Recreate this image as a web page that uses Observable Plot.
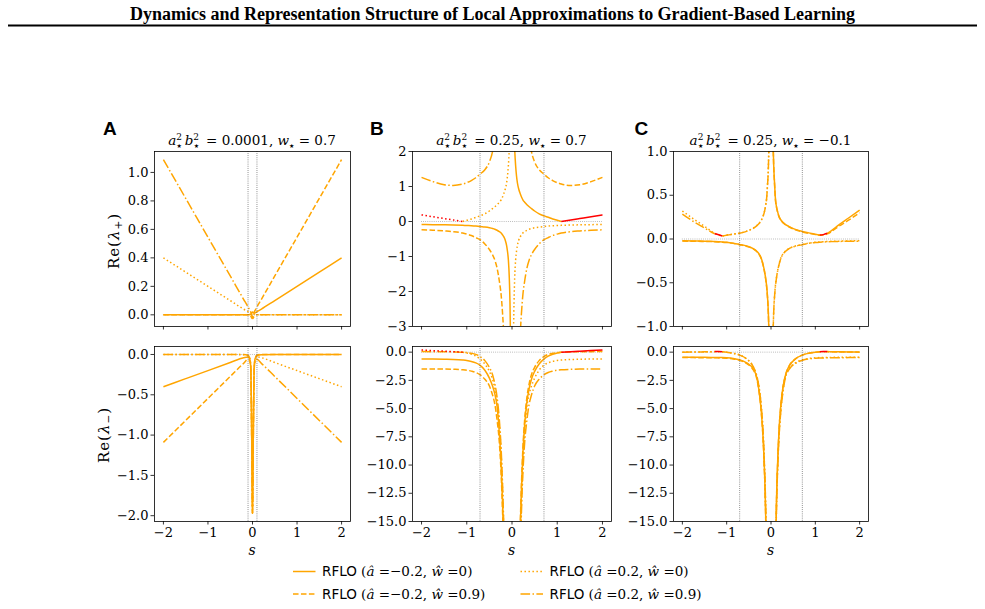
<!DOCTYPE html>
<html>
<head>
<meta charset="utf-8">
<title>RFLO eigenvalues</title>
<script src="https://cdn.jsdelivr.net/npm/d3@7"></script>
<script src="https://cdn.jsdelivr.net/npm/@observablehq/plot@0.6"></script>
<style>
  html, body { margin: 0; padding: 0; background: #fff; }
  #fig { position: relative; width: 985px; height: 609px; overflow: hidden; background: #fff; }
  #fig svg.panel { position: absolute; }
  #overlay { position: absolute; left: 0; top: 0; pointer-events: none; }
</style>
</head>
<body>
<div id="fig"></div>
<script>
// ---------- data ----------
const PAPER_TITLE = "Dynamics and Representation Structure of Local Approximations to Gradient-Based Learning";
const PANEL_LETTERS = ["A", "B", "C"];
const PANEL_AB2 = ["0.0001", "0.25", "0.25"];
const PANEL_WSTAR = ["0.7", "0.7", "\u22120.1"];
const LEGEND_AHAT = ["\u22120.2", "\u22120.2", "0.2", "0.2"];
const LEGEND_WHAT = ["0", "0.9", "0", "0.9"];
const LEGEND_STYLE = ["solid", "dashed", "dotted", "dashdot"];

const X_TICKS = [-2, -1, 0, 1, 2];
const S_SPAN = [-2, 2];
const CRIT_A = [-0.1, 0.1];
const CRIT_BC = [-0.7071, 0.7071];

// Panel A (a*^2 b*^2 = 0.0001, w* = 0.7)
const S_A = [-2, -1.5, -1, -0.5, -0.2, -0.1, -0.06, -0.04, -0.03, -0.02, -0.01, 0, 0.01, 0.02, 0.03, 0.04, 0.06, 0.1, 0.2, 0.5, 1, 1.5, 2];
const aTopSolid   = [0, 0, 0, 0, 0, 0, 0.002, 0.004, 0.006, 0.01, 0.015, 0.02, 0.018, 0.015, 0.013, 0.013, 0.015, 0.022, 0.04, 0.1, 0.2, 0.3, 0.4];
const aTopDashed  = [0, 0, 0, 0, 0, 0, -0.005, -0.01, -0.015, -0.02, -0.025, -0.02, -0.01, 0, 0.01, 0.02, 0.032, 0.055, 0.109, 0.273, 0.545, 0.818, 1.09];
const aTopDotted  = [0.4, 0.3, 0.2, 0.1, 0.04, 0.022, 0.015, 0.013, 0.013, 0.015, 0.018, 0.02, 0.015, 0.01, 0.006, 0.004, 0.002, 0, 0, 0, 0, 0, 0];
const aTopDashDot = [1.09, 0.818, 0.545, 0.273, 0.109, 0.055, 0.032, 0.02, 0.01, 0, -0.01, -0.02, -0.025, -0.02, -0.015, -0.01, -0.005, 0, 0, 0, 0, 0, 0];
const aBotSolid   = [-0.4, -0.3, -0.2, -0.1, -0.04, -0.03, -0.06, -0.15, -0.4, -0.9, -1.5, -1.97, -1.5, -0.9, -0.4, -0.15, -0.05, -0.015, -0.004, 0, 0, 0, 0];
const aBotDashed  = [-1.09, -0.818, -0.545, -0.273, -0.11, -0.06, -0.08, -0.17, -0.42, -0.92, -1.5, -1.97, -1.5, -0.9, -0.4, -0.15, -0.05, -0.01, 0, 0, 0, 0, 0];
const aBotDotted  = [0, 0, 0, 0, -0.004, -0.015, -0.05, -0.15, -0.4, -0.9, -1.5, -1.97, -1.5, -0.9, -0.4, -0.15, -0.06, -0.03, -0.04, -0.1, -0.2, -0.3, -0.4];
const aBotDashDot = [0, 0, 0, 0, 0, -0.01, -0.05, -0.15, -0.4, -0.9, -1.5, -1.97, -1.5, -0.92, -0.42, -0.17, -0.08, -0.06, -0.11, -0.273, -0.545, -0.818, -1.09];

// Panel B (a*^2 b*^2 = 0.25, w* = 0.7)
const S_B = [-2, -1.75, -1.5, -1.3, -1.09, -1, -0.9, -0.8, -0.71, -0.6, -0.5, -0.43, -0.38, -0.33, -0.28, -0.24, -0.21, -0.18, -0.15, -0.12, -0.1, -0.08, -0.06, -0.045, -0.03, 0,
             0.03, 0.045, 0.06, 0.08, 0.1, 0.12, 0.15, 0.18, 0.21, 0.24, 0.28, 0.33, 0.38, 0.43, 0.5, 0.6, 0.71, 0.8, 0.9, 1, 1.09, 1.3, 1.5, 1.75, 2];
const bTopSolid = [-0.085, -0.09, -0.095, -0.1, -0.11, -0.115, -0.12, -0.13, -0.145, -0.16, -0.18, -0.2, -0.22, -0.25, -0.29, -0.33, -0.38, -0.44, -0.53, -0.68, -0.85, -1.1, -1.6, -2.3, -3.6, null,
                   3.5, 2.6, 2.05, 1.6, 1.3, 1.1, 0.92, 0.8, 0.7, 0.62, 0.55, 0.48, 0.42, 0.37, 0.3, 0.22, 0.16, 0.12, 0.07, 0.035, 0, null, null, null, null];
const bTopDashed = [-0.237, -0.25, -0.27, -0.29, -0.33, -0.36, -0.4, -0.46, -0.52, -0.64, -0.8, -0.95, -1.1, -1.33, -1.7, -2.1, -2.6, -3.3, -4.5,
                    null, null, null, null, null, null, null, null, null, null, null, null, null, null, null, null, null, null,
                    3.0, 2.4, 2.0, 1.7, 1.48, 1.35, 1.25, 1.17, 1.11, 1.07, 1.03, 1.05, 1.14, 1.26];
const bTopDotted = [null, null, null, null, 0, 0.035, 0.07, 0.12, 0.16, 0.22, 0.3, 0.37, 0.42, 0.48, 0.55, 0.62, 0.7, 0.8, 0.92, 1.1, 1.3, 1.6, 2.05, 2.6, 3.5, null,
                    -3.6, -2.3, -1.6, -1.1, -0.85, -0.68, -0.53, -0.44, -0.38, -0.33, -0.29, -0.25, -0.22, -0.2, -0.18, -0.16, -0.145, -0.13, -0.12, -0.115, -0.11, -0.1, -0.095, -0.09, -0.085];
const bTopDashDot = [1.26, 1.14, 1.05, 1.03, 1.07, 1.11, 1.17, 1.25, 1.35, 1.48, 1.7, 2.0, 2.4, 3.0,
                     null, null, null, null, null, null, null, null, null, null, null, null, null, null, null, null, null, null,
                     -4.5, -3.3, -2.6, -2.1, -1.7, -1.33, -1.1, -0.95, -0.8, -0.64, -0.52, -0.46, -0.4, -0.36, -0.33, -0.29, -0.27, -0.25, -0.237];
const bBotSolid = [-0.6, -0.61, -0.63, -0.65, -0.7, -0.74, -0.82, -0.95, -1.15, -1.6, -2.3, -3.0, -3.7, -4.8, -7.2, -10.0, -13.2, -17.5, null,
                   null, null, null, null, null, null, null, null, null, null, null, null, null, null,
                   -16.0, -12.0, -9.0, -6.4, -4.4, -3.2, -2.4, -1.7, -1.05, -0.6, -0.35, -0.18, -0.07, 0, null, null, null, null];
const bBotDashed = [-1.49, -1.49, -1.5, -1.52, -1.56, -1.6, -1.68, -1.8, -2.0, -2.4, -3.0, -3.8, -4.6, -6.0, -8.0, -10.8, -14.0, -18.5, null,
                    null, null, null, null, null, null, null, null, null, null, null, null, null, null,
                    -15.6, -11.6, -8.6, -6.0, -4.0, -2.8, -2.0, -1.35, -0.75, -0.38, -0.2, -0.1, -0.04, -0.01, 0.02, 0.035, 0.045, 0.05];
const bBotDotted = [null, null, null, null, 0, -0.07, -0.18, -0.35, -0.6, -1.05, -1.7, -2.4, -3.2, -4.4, -6.4, -9.0, -12.0, -16.0, null,
                    null, null, null, null, null, null, null, null, null, null, null, null, null, null,
                    -17.5, -13.2, -10.0, -7.2, -4.8, -3.7, -3.0, -2.3, -1.6, -1.15, -0.95, -0.82, -0.74, -0.7, -0.65, -0.63, -0.61, -0.6];
const bBotDashDot = [0.05, 0.045, 0.035, 0.02, -0.01, -0.04, -0.1, -0.2, -0.38, -0.75, -1.35, -2.0, -2.8, -4.0, -6.0, -8.6, -11.6, -15.6, null,
                     null, null, null, null, null, null, null, null, null, null, null, null, null, null,
                     -18.5, -14.0, -10.8, -8.0, -6.0, -4.6, -3.8, -3.0, -2.4, -2.0, -1.8, -1.68, -1.6, -1.56, -1.52, -1.5, -1.49, -1.49];
// complex-eigenvalue stretches (equal real parts), drawn in red
const S_B_RED_LEFT = [-2, -1.75, -1.5, -1.3, -1.09];
const S_B_RED_RIGHT = [1.09, 1.3, 1.5, 1.75, 2];
const bDottedRed = [0.19, 0.135, 0.085, 0.045, 0];
const bSolidRed = [0, 0.045, 0.085, 0.135, 0.19];

// Panel C (a*^2 b*^2 = 0.25, w* = -0.1)
const S_C = [-2, -1.75, -1.5, -1.35, -1.27, -1.18, -1.1, -1, -0.85, -0.71, -0.55, -0.4, -0.33, -0.27, -0.22, -0.18, -0.15, -0.12, -0.1, -0.08, -0.06, -0.05, -0.04, 0,
             0.04, 0.05, 0.06, 0.08, 0.1, 0.12, 0.15, 0.18, 0.22, 0.27, 0.33, 0.4, 0.55, 0.71, 0.85, 1, 1.1, 1.18, 1.27, 1.35, 1.5, 1.75, 2];
const cTopSolid = [-0.02, -0.022, -0.025, -0.027, -0.029, -0.031, -0.033, -0.037, -0.048, -0.062, -0.08, -0.11, -0.135, -0.17, -0.22, -0.29, -0.36, -0.45, -0.53, -0.65, -0.84, -1.0, -1.22, null,
                   1.3, 1.05, 0.86, 0.64, 0.46, 0.38, 0.31, 0.26, 0.22, 0.19, 0.165, 0.145, 0.11, 0.085, 0.07, 0.055, 0.045, null, 0.065, 0.09, 0.15, 0.24, 0.33];
const cTopDashed = [-0.024, -0.026, -0.028, -0.03, -0.032, -0.034, -0.036, -0.04, -0.05, -0.065, -0.083, -0.113, -0.14, -0.175, -0.225, -0.295, -0.365, -0.46, -0.54, -0.66, -0.85, -1.02, -1.24, null,
                    1.28, 1.03, 0.85, 0.63, 0.45, 0.375, 0.305, 0.255, 0.215, 0.185, 0.16, 0.14, 0.105, 0.08, 0.065, 0.05, 0.042, 0.045, 0.058, 0.08, 0.135, 0.215, 0.3];
const cTopDotted = [0.32, 0.23, 0.145, 0.09, 0.065, 0.048, 0.035, 0.045, 0.057, 0.067, 0.09, 0.125, 0.15, 0.18, 0.215, 0.26, 0.31, 0.39, 0.46, 0.62, 0.82, 1.02, 1.27, null,
                    -1.22, -1.0, -0.84, -0.65, -0.53, -0.45, -0.36, -0.29, -0.22, -0.17, -0.135, -0.11, -0.08, -0.062, -0.048, -0.037, -0.033, -0.031, -0.029, -0.027, -0.025, -0.022, -0.02];
const cTopDashDot = [0.285, 0.2, 0.125, 0.08, 0.06, null, 0.035, 0.043, 0.055, 0.065, 0.087, 0.122, 0.147, 0.177, 0.212, 0.257, 0.307, 0.385, 0.455, 0.6, 0.8, 1.0, 1.25, null,
                     -1.24, -1.02, -0.85, -0.66, -0.54, -0.46, -0.365, -0.295, -0.225, -0.175, -0.14, -0.113, -0.083, -0.065, -0.05, -0.04, -0.036, -0.034, -0.032, -0.03, -0.028, -0.026, -0.024];
const cBotSolid = [-0.45, -0.455, -0.46, -0.465, -0.47, -0.475, -0.48, -0.5, -0.56, -0.68, -0.95, -1.5, -2.1, -3.4, -5.2, -7.5, -10.2, -14.5, -20,
                   null, null, null, null, null, null, null, null, null,
                   -20, -14, -9.8, -7.0, -4.8, -3.1, -2.0, -1.3, -0.6, -0.25, -0.1, -0.01, 0.045, null, 0.065, 0.045, 0.03, 0.015, 0.01];
const cBotDashed = [-0.48, -0.485, -0.49, -0.5, -0.5, -0.51, -0.52, -0.54, -0.6, -0.72, -1.0, -1.58, -2.2, -3.5, -5.3, -7.6, -10.3, -14.6, -20,
                    null, null, null, null, null, null, null, null, null,
                    -19.5, -14, -9.8, -7.0, -4.8, -3.1, -2.0, -1.3, -0.6, -0.26, -0.1, -0.01, 0.03, 0.035, 0.035, 0.03, 0.02, 0.01, 0.0];
const cBotDotted = [0.0, 0.01, 0.02, 0.03, 0.035, 0.035, 0.03, -0.01, -0.1, -0.25, -0.6, -1.3, -2.0, -3.1, -4.8, -7.0, -9.8, -14, -19.5,
                    null, null, null, null, null, null, null, null, null,
                    -20, -14.5, -10.2, -7.5, -5.2, -3.4, -2.1, -1.5, -0.95, -0.68, -0.56, -0.5, -0.48, -0.475, -0.47, -0.465, -0.46, -0.455, -0.45];
const cBotDashDot = [0.0, 0.01, 0.025, 0.04, 0.06, null, 0.035, -0.01, -0.1, -0.26, -0.6, -1.3, -2.0, -3.1, -4.8, -7.0, -9.8, -14, -20,
                     null, null, null, null, null, null, null, null, null,
                     -20, -14.6, -10.3, -7.6, -5.3, -3.5, -2.2, -1.58, -1.0, -0.72, -0.6, -0.54, -0.52, -0.51, -0.5, -0.5, -0.49, -0.485, -0.48];
const S_C_RED_LEFT = [-1.27, -1.18, -1.1];
const S_C_RED_RIGHT = [1.1, 1.18, 1.27];
const cDashDotRed = [0.06, 0.048, 0.035];
const cSolidRed = [0.045, 0.05, 0.065];

// ---------- drawing ----------
const ORANGE = "#ffa500";
const RED = "#ff0000";
const DASHES = { solid: undefined, dashed: "5.55,2.4", dotted: "1.5,2.475", dashdot: "9.6,2.4,1.5,2.4" };
const toRows = (S, Y) => S.map((s, i) => ({ s, y: Y[i] }));
const fig = document.getElementById("fig");

const COLS = [{ left: 154, w: 196 }, { left: 412, w: 199 }, { left: 673, w: 195 }];
const ROWS = [{ top: 151, h: 175 }, { top: 346, h: 175 }];

function drawPanel(cfg) {
  const mL = 60, mR = 10, mT = 10, mB = 30;
  const lineOpts = (style, color) => ({
    x: "s", y: "y", stroke: color, strokeWidth: 1.5, strokeDasharray: DASHES[style],
    curve: "monotone-x", clip: true, strokeLinejoin: "round", strokeLinecap: "butt"
  });
  const marks = [
    Plot.ruleY([0], { x1: S_SPAN[0], x2: S_SPAN[1], stroke: "#999", strokeWidth: 0.8, strokeDasharray: "0.8,1.32" })
  ];
  for (const [Y, style] of cfg.series) marks.push(Plot.line(toRows(cfg.S, Y), lineOpts(style, ORANGE)));
  for (const [S, Y, style] of cfg.reds) marks.push(Plot.line(toRows(S, Y), lineOpts(style, RED)));
  marks.push(Plot.ruleX(cfg.crit, { stroke: "#555", strokeWidth: 0.8, strokeDasharray: "0.8,1.32" }));
  marks.push(Plot.frame({ stroke: "#000", strokeWidth: 0.8 }));
  marks.push(Plot.axisX({ ticks: X_TICKS, tickSize: 3.5, tickPadding: 3, label: null, strokeWidth: 0.8,
    tickFormat: cfg.xLabels ? d3.format("d") : () => "" }));
  marks.push(Plot.axisY({ ticks: cfg.yTicks, tickSize: 3.5, tickPadding: 2.5, label: null, strokeWidth: 0.8,
    tickFormat: d3.format(cfg.yFormat) }));
  const svg = Plot.plot({
    width: cfg.w + mL + mR, height: cfg.h + mT + mB,
    marginLeft: mL, marginRight: mR, marginTop: mT, marginBottom: mB,
    x: { domain: [-2.2, 2.2] },
    y: { domain: cfg.yDomain },
    style: { background: "transparent", fontFamily: "'DejaVu Serif', serif", fontSize: "13px", color: "#000", overflow: "visible" },
    marks
  });
  svg.classList.add("panel");
  svg.style.left = (cfg.left - mL) + "px";
  svg.style.top = (cfg.top - mT) + "px";
  svg.style.maxWidth = "none";
  fig.appendChild(svg);
}

const TICKS_A_TOP = [0, 0.2, 0.4, 0.6, 0.8, 1.0];
const TICKS_A_BOT = [-2, -1.5, -1, -0.5, 0];
const TICKS_B_TOP = [-3, -2, -1, 0, 1, 2];
const TICKS_15 = [-15, -12.5, -10, -7.5, -5, -2.5, 0];
const TICKS_C_TOP = [-1, -0.5, 0, 0.5, 1];

const panels = [
  { col: 0, row: 0, S: S_A, crit: CRIT_A, yDomain: [-0.082, 1.147], yTicks: TICKS_A_TOP, yFormat: ".1f",
    series: [[aTopSolid, "solid"], [aTopDashed, "dashed"], [aTopDotted, "dotted"], [aTopDashDot, "dashdot"]], reds: [] },
  { col: 0, row: 1, S: S_A, crit: CRIT_A, yDomain: [-2.072, 0.099], yTicks: TICKS_A_BOT, yFormat: ".1f",
    series: [[aBotSolid, "solid"], [aBotDashed, "dashed"], [aBotDotted, "dotted"], [aBotDashDot, "dashdot"]], reds: [] },
  { col: 1, row: 0, S: S_B, crit: CRIT_BC, yDomain: [-3, 2], yTicks: TICKS_B_TOP, yFormat: "d",
    series: [[bTopSolid, "solid"], [bTopDashed, "dashed"], [bTopDotted, "dotted"], [bTopDashDot, "dashdot"]],
    reds: [[S_B_RED_RIGHT, bSolidRed, "solid"], [S_B_RED_LEFT, bDottedRed, "dotted"]] },
  { col: 1, row: 1, S: S_B, crit: CRIT_BC, yDomain: [-15, 0.5], yTicks: TICKS_15, yFormat: ".1f",
    series: [[bBotSolid, "solid"], [bBotDashed, "dashed"], [bBotDotted, "dotted"], [bBotDashDot, "dashdot"]],
    reds: [[S_B_RED_RIGHT, bSolidRed, "solid"], [S_B_RED_LEFT, bDottedRed, "dotted"]] },
  { col: 2, row: 0, S: S_C, crit: CRIT_BC, yDomain: [-1, 1], yTicks: TICKS_C_TOP, yFormat: ".1f",
    series: [[cTopSolid, "solid"], [cTopDashed, "dashed"], [cTopDotted, "dotted"], [cTopDashDot, "dashdot"]],
    reds: [[S_C_RED_RIGHT, cSolidRed, "solid"], [S_C_RED_LEFT, cDashDotRed, "dashdot"]] },
  { col: 2, row: 1, S: S_C, crit: CRIT_BC, yDomain: [-15, 0.5], yTicks: TICKS_15, yFormat: ".1f",
    series: [[cBotSolid, "solid"], [cBotDashed, "dashed"], [cBotDotted, "dotted"], [cBotDashDot, "dashdot"]],
    reds: [[S_C_RED_RIGHT, cSolidRed, "solid"], [S_C_RED_LEFT, cDashDotRed, "dashdot"]] }
];

for (const p of panels) {
  drawPanel({ ...p, left: COLS[p.col].left, w: COLS[p.col].w, top: ROWS[p.row].top, h: ROWS[p.row].h, xLabels: p.row === 1 });
}

// ---------- text overlay: header, panel titles, axis labels, legend ----------
const SERIF = "'DejaVu Serif', serif";
const SANS = "'DejaVu Sans', sans-serif";
const centers = COLS.map(c => c.left + c.w / 2);
const LETTER_X = [103, 370, 634.5];

// letter with exponent 2 stacked over a small star subscript; returns to the baseline afterwards
function starred(letter) {
  return `<tspan font-style="italic">${letter}</tspan><tspan font-size="9" dy="-5.5">2</tspan>` +
    `<tspan font-family="${SANS}" font-size="6" dx="-5.4" dy="8.5">\u2605</tspan><tspan font-size="13.5" dy="-3">\u2009</tspan>`;
}
function panelTitle(cx, ab2, w) {
  return `<text x="${cx}" y="145" text-anchor="middle" font-family="${SERIF}" font-size="13.5">` +
    starred("a") + starred("b") +
    `<tspan> = ${ab2}, </tspan><tspan font-style="italic">w</tspan>` +
    `<tspan font-family="${SANS}" font-size="6" dy="3">\u2605</tspan><tspan dy="-3"> = ${w}</tspan></text>`;
}

function yLabel(x, y, sign) {
  return `<text transform="translate(${x},${y}) rotate(-90)" text-anchor="middle" font-family="${SERIF}" font-size="15" letter-spacing="1">` +
    `Re(<tspan font-style="italic">\u03BB</tspan><tspan font-size="10.5" dy="3">${sign}</tspan><tspan dy="-3">)</tspan></text>`;
}

const LEGEND_POS = [[293, 571.5], [293, 594], [520.5, 571.5], [520.5, 594]];
function legendItem(i) {
  const [x, y] = LEGEND_POS[i];
  const dash = DASHES[LEGEND_STYLE[i]];
  return `<line x1="${x}" x2="${x + 22.5}" y1="${y}" y2="${y}" stroke="${ORANGE}" stroke-width="1.5"${dash ? ` stroke-dasharray="${dash}"` : ""}/>` +
    `<text x="${x + 29}" y="${y + 4.8}" font-size="13.5"><tspan font-family="${SANS}">RFLO </tspan>` +
    `<tspan font-family="${SERIF}">(<tspan font-style="italic">\u00E2</tspan> =${LEGEND_AHAT[i]}, <tspan font-style="italic">\u0175</tspan> =${LEGEND_WHAT[i]})</tspan></text>`;
}

let ov = `<svg id="overlay" width="985" height="609" xmlns="http://www.w3.org/2000/svg">`;
ov += `<text x="492.5" y="19.5" text-anchor="middle" font-family="'Liberation Serif', serif" font-weight="bold" font-size="18.5" textLength="725" lengthAdjust="spacingAndGlyphs">${PAPER_TITLE}</text>`;
ov += `<line x1="8" x2="977" y1="25.5" y2="25.5" stroke="#000" stroke-width="2"/>`;
PANEL_LETTERS.forEach((L, i) => {
  ov += `<text x="${LETTER_X[i]}" y="134.5" font-family="'Liberation Sans', Arial, sans-serif" font-weight="bold" font-size="19">${L}</text>`;
  ov += panelTitle(centers[i], PANEL_AB2[i], PANEL_WSTAR[i]);
  ov += `<text x="${centers[i]}" y="555" text-anchor="middle" font-family="${SERIF}" font-style="italic" font-size="14">s</text>`;
});
ov += yLabel(119, 241, "+");
ov += yLabel(108.5, 435, "\u2212");
for (let i = 0; i < 4; i++) ov += legendItem(i);
ov += `</svg>`;
fig.insertAdjacentHTML("beforeend", ov);
</script>
</body>
</html>
